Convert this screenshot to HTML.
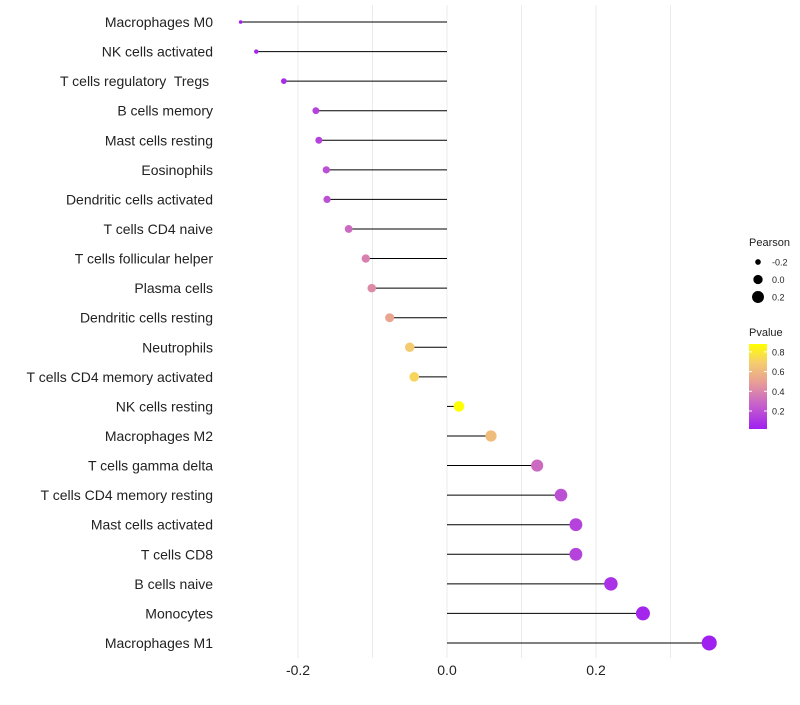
<!DOCTYPE html>
<html><head><meta charset="utf-8"><style>
body{margin:0;background:#fff;font-family:"Liberation Sans",sans-serif}
svg text{font-family:"Liberation Sans",sans-serif;white-space:pre}
</style></head><body>
<svg id="c" width="800" height="700"></svg>
<script>
const categories=["Macrophages M0","NK cells activated","T cells regulatory  Tregs ","B cells memory","Mast cells resting","Eosinophils","Dendritic cells activated","T cells CD4 naive","T cells follicular helper","Plasma cells","Dendritic cells resting","Neutrophils","T cells CD4 memory activated","NK cells resting","Macrophages M2","T cells gamma delta","T cells CD4 memory resting","Mast cells activated","T cells CD8","B cells naive","Monocytes","Macrophages M1"];
const pearson=[-0.277,-0.256,-0.219,-0.176,-0.172,-0.162,-0.161,-0.132,-0.109,-0.101,-0.077,-0.050,-0.044,0.016,0.059,0.121,0.153,0.173,0.173,0.220,0.263,0.352];
const pvalue=[0.01,0.05,0.06,0.15,0.15,0.2,0.2,0.3,0.38,0.42,0.52,0.68,0.72,0.9,0.62,0.3,0.2,0.15,0.15,0.08,0.04,0.01];
const xTicks=[-0.2,0,0.2];
const xGrid=[-0.2,-0.1,0,0.1,0.2,0.3];
const NS="http://www.w3.org/2000/svg";
const svg=document.getElementById('c');
function x(v){return 447+v*745;}
function y(i){return 22+i*29.57;}
function r(v){return Math.sqrt(Math.max(0.8,3+85*(v+0.28)));}
const stops=[[0,[160,32,240]],[0.3,[200,100,200]],[0.55,[232,158,150]],[0.78,[245,205,110]],[1,[255,255,0]]];
function col(p){const t=Math.max(0,Math.min(1,(p-0.017)/(0.88-0.017)));
for(let k=1;k<stops.length;k++){if(t<=stops[k][0]){const a=stops[k-1],b=stops[k];const u=(t-a[0])/(b[0]-a[0]);
return `rgb(${a[1].map((c,j)=>Math.round(c+(b[1][j]-c)*u)).join(',')})`;}}return 'rgb(255,255,0)';}
function mk(tag,attrs,parent){const e=document.createElementNS(NS,tag);for(const k in attrs)e.setAttribute(k,attrs[k]);(parent||svg).appendChild(e);return e;}
xGrid.forEach(v=>{const g=mk('line',{x1:x(v),x2:x(v),y1:5,y2:658,stroke:'#ebebeb','stroke-width':1});

});
xTicks.forEach(v=>{const t=mk('text',{x:x(v),y:675,'text-anchor':'middle','font-size':14,fill:'#222'});t.textContent=v===0?'0.0':v.toFixed(1);

});
categories.forEach((c,i)=>{
const t=mk('text',{x:213,y:y(i)+5,'text-anchor':'end','font-size':14,fill:'#222'});t.textContent=c;


const l=mk('line',{x1:x(0),x2:x(pearson[i]),y1:y(i),y2:y(i),stroke:'#000','stroke-width':1});


const d=mk('circle',{cx:x(pearson[i]),cy:y(i),r:r(pearson[i]),fill:col(pvalue[i])});


});
const lg=mk('g',{});


let tt=mk('text',{x:749,y:246,'font-size':11,fill:'#222'},lg);tt.textContent='Pearson';
[-0.2,0,0.2].forEach((v,k)=>{const cy=262+k*17.5;
const c=mk('circle',{cx:758,cy:cy,r:r(v)*0.9,fill:'#000'},lg);


const t=mk('text',{x:772,y:cy+3.5,'font-size':9,fill:'#222'},lg);t.textContent=v===0?'0.0':v.toFixed(1);});
tt=mk('text',{x:749,y:336,'font-size':11,fill:'#222'},lg);tt.textContent='Pvalue';
const defs=mk('defs',{});
const gr=mk('linearGradient',{id:'pg',x1:0,y1:1,x2:0,y2:0},defs);
stops.forEach(s=>mk('stop',{offset:s[0],'stop-color':`rgb(${s[1].join(',')})`},gr));
const bar=mk('rect',{x:749,y:344,width:18,height:85,fill:'url(#pg)'},lg);


[0.2,0.4,0.6,0.8].forEach(v=>{const yy=429-(v-0.017)/(0.88-0.017)*85;
mk('line',{x1:749,x2:752,y1:yy,y2:yy,stroke:'#fff'},lg);mk('line',{x1:764,x2:767,y1:yy,y2:yy,stroke:'#fff'},lg);
const t=mk('text',{x:772,y:yy+3.5,'font-size':9,fill:'#222'},lg);t.textContent=v.toFixed(1);});
</script>
</body></html>
